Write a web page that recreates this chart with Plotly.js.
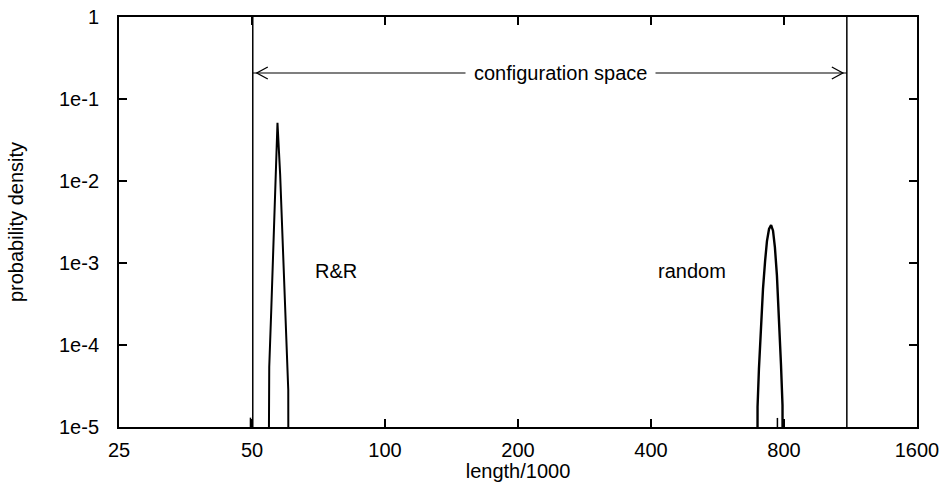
<!DOCTYPE html>
<html>
<head>
<meta charset="utf-8">
<script src="https://cdn.plot.ly/plotly-3.0.1.min.js"></script>
<style>html,body{margin:0;padding:0;background:#fff;}#chart{width:945px;height:482px;}</style>
</head>
<body>
<div id="chart"></div>
<script>
// ---- data ----
const xTickVals = [25, 50, 100, 200, 400, 800, 1600];
const xTickText = ['25', '50', '100', '200', '400', '800', '1600'];
const yTickVals = [1, 1e-1, 1e-2, 1e-3, 1e-4, 1e-5];
const yTickText = ['1', '1e-1', '1e-2', '1e-3', '1e-4', '1e-5'];

// R&R distribution (length/1000 vs probability density)
const rrLength  = [54.4, 54.5, 54.7, 55.3, 55.8, 56.4, 57.1, 57.9, 58.5, 59.1, 59.7, 60.4, 60.5];
const rrDensity = [1e-7, 3.1e-5, 5.4e-5, 2.83e-4, 1.48e-3, 7.8e-3, 0.0514, 0.0120, 2.79e-3, 6.5e-4, 1.51e-4, 2.83e-5, 1e-7];

// random distribution
const randomLength  = [696, 697, 702, 709.6, 717, 725, 732, 740, 748, 755.5, 763, 771, 779, 787.6, 793.8, 795];
const randomDensity = [1e-7, 1.75e-5, 5.1e-5, 1.75e-4, 4.8e-4, 1.06e-3, 1.85e-3, 2.6e-3, 2.9e-3, 2.48e-3, 1.55e-3, 7.06e-4, 2.35e-4, 5.7e-5, 1.85e-5, 1e-7];

// isolated single-bin spikes near the floor
const spikeLength  = [49.6, 773];
const spikeDensity = [1.3e-5, 1.29e-5];

// configuration-space boundaries
const boundaryLength = [50.2, 1110];
const arrowLevel = 0.2075;

const floorDensity = 1e-7, ceilDensity = 10;

// ---- build traces ----
const black = '#000';
const traces = [];
traces.push({x: rrLength, y: rrDensity, mode: 'lines', line: {color: black, width: 2}, hoverinfo: 'skip'});
traces.push({x: randomLength, y: randomDensity, mode: 'lines', line: {color: black, width: 2.4}, hoverinfo: 'skip'});
const sx = [], sy = [];
spikeLength.forEach((v, i) => { sx.push(v, v, null); sy.push(floorDensity, spikeDensity[i], null); });
traces.push({x: sx, y: sy, mode: 'lines', line: {color: black, width: 1.5}, hoverinfo: 'skip'});
const bx = [], by = [];
boundaryLength.forEach(v => { bx.push(v, v, null); by.push(floorDensity, ceilDensity, null); });
traces.push({x: bx, y: by, mode: 'lines', line: {color: black, width: 1.5}, hoverinfo: 'skip'});
traces.push({x: boundaryLength, y: [arrowLevel, arrowLevel], mode: 'lines', line: {color: black, width: 1.2}, hoverinfo: 'skip'});

const font = {family: 'Liberation Sans, Arial, Helvetica, sans-serif', size: 20, color: black};

const layout = {
  width: 945, height: 482,
  margin: {l: 119, r: 28, t: 17, b: 55},
  paper_bgcolor: '#fff', plot_bgcolor: '#fff',
  showlegend: false,
  font: font,
  xaxis: {
    type: 'log', range: [Math.log10(25), Math.log10(1600)],
    tickmode: 'array', tickvals: xTickVals, ticktext: xTickText,
    ticks: 'inside', ticklen: 8, tickwidth: 1.5, tickcolor: black,
    showline: true, linecolor: black, linewidth: 2, mirror: 'allticks',
    showgrid: false, zeroline: false, ticklabelstandoff: 4,
    tickfont: font,
    title: {text: 'length/1000', font: font, standoff: 0}
  },
  yaxis: {
    type: 'log', range: [-5, 0],
    tickmode: 'array', tickvals: yTickVals, ticktext: yTickText,
    ticks: 'inside', ticklen: 8, tickwidth: 1.5, tickcolor: black,
    showline: true, linecolor: black, linewidth: 2, mirror: 'allticks',
    showgrid: false, zeroline: false, ticklabelstandoff: 14,
    tickfont: font,
    title: {text: 'probability density', font: font, standoff: 30}
  },
  shapes: [
    {type: 'path', xref: 'x', yref: 'y', xsizemode: 'pixel', ysizemode: 'pixel',
     xanchor: boundaryLength[0], yanchor: arrowLevel,
     path: 'M 15 6 L 4 0 L 15 -6', line: {color: black, width: 1.3}},
    {type: 'path', xref: 'x', yref: 'y', xsizemode: 'pixel', ysizemode: 'pixel',
     xanchor: boundaryLength[1], yanchor: arrowLevel,
     path: 'M -15 6 L -4 0 L -15 -6', line: {color: black, width: 1.3}}
  ],
  annotations: [
    {x: Math.log10(249), y: Math.log10(arrowLevel), xref: 'x', yref: 'y', text: 'configuration space',
     showarrow: false, bgcolor: '#fff', borderpad: 8, font: font},
    {x: Math.log10(77.4), y: Math.log10(7.9e-4), xref: 'x', yref: 'y', text: 'R&amp;R', showarrow: false, font: font},
    {x: Math.log10(495), y: Math.log10(7.9e-4), xref: 'x', yref: 'y', text: 'random', showarrow: false, font: font}
  ]
};

Plotly.newPlot('chart', traces, layout, {staticPlot: true, displayModeBar: false});
</script>
</body>
</html>
